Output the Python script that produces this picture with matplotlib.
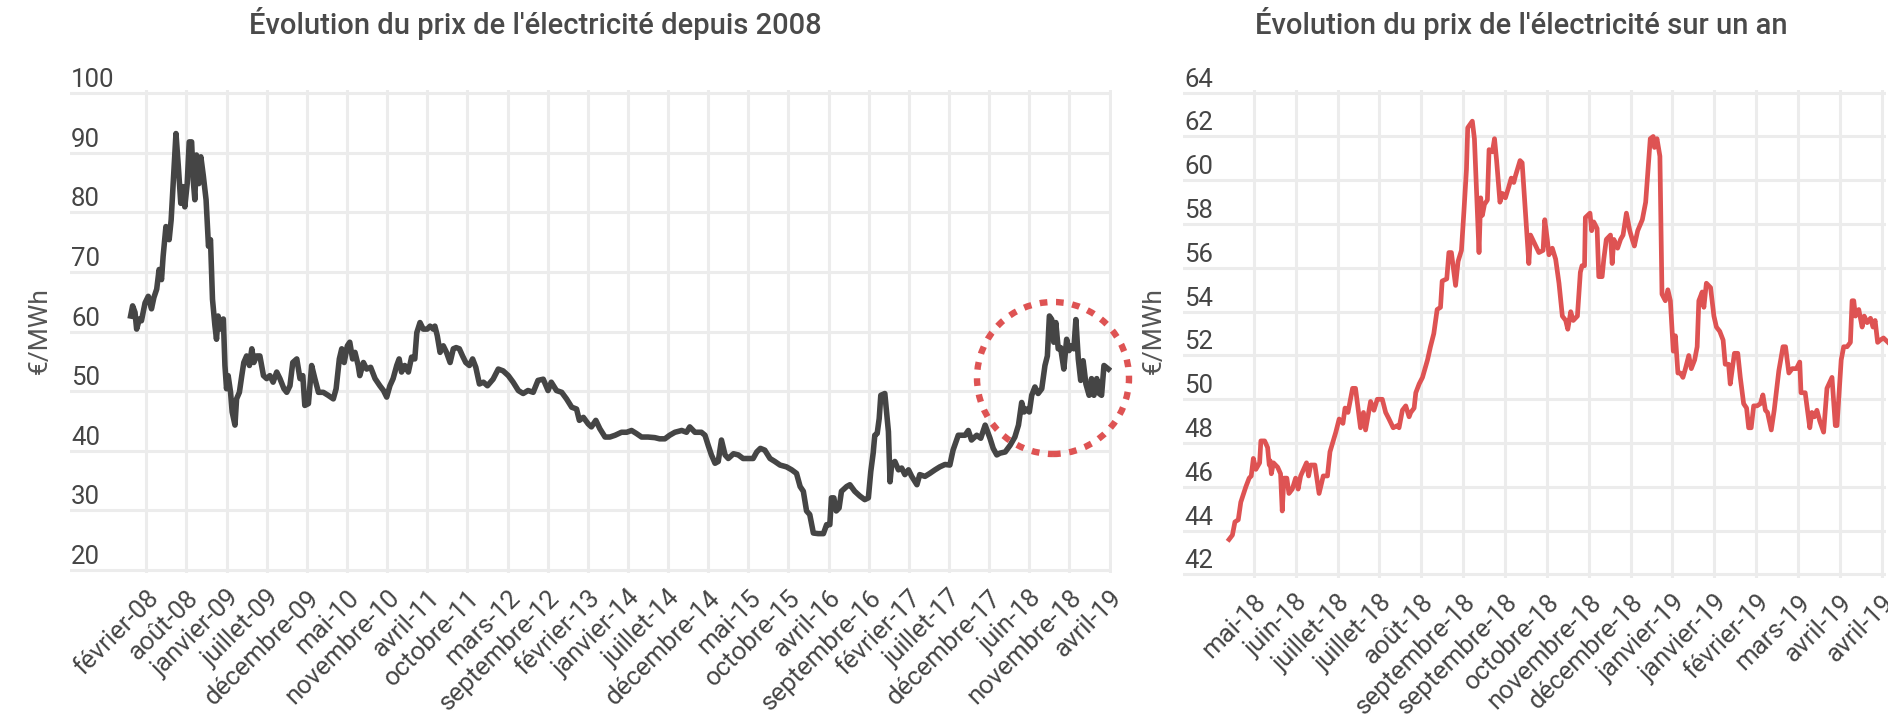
import matplotlib
matplotlib.use("Agg")
import matplotlib.pyplot as plt
from matplotlib.patches import Ellipse
from matplotlib import transforms

plt.rcParams['font.family'] = ['Roboto', 'DejaVu Sans']

# ---------------- data ----------------
titre_gauche = "Évolution du prix de l'électricité depuis 2008"
titre_droite = "Évolution du prix de l'électricité sur un an"
unite = "€/MWh"

mois_2008 = ["février-08", "août-08", "janvier-09", "juillet-09", "décembre-09", "mai-10",
             "novembre-10", "avril-11", "octobre-11", "mars-12", "septembre-12", "février-13",
             "janvier-14", "juillet-14", "décembre-14", "mai-15", "octobre-15", "avril-16",
             "septembre-16", "février-17", "juillet-17", "décembre-17", "juin-18",
             "novembre-18", "avril-19"]
mois_an = ["mai-18", "juin-18", "juillet-18", "juillet-18", "août-18", "septembre-18",
           "septembre-18", "octobre-18", "novembre-18", "décembre-18", "janvier-19",
           "janvier-19", "février-19", "mars-19", "avril-19", "avril-19"]

y_ticks_2008 = [20, 30, 40, 50, 60, 70, 80, 90, 100]
y_ticks_an = [42, 44, 46, 48, 50, 52, 54, 56, 58, 60, 62, 64]

# (position on the label axis, price in €/MWh); labels are 10 units apart
prix_2008 = [(-3.9, 62.6), (-3.4, 64.3), (-2.8, 63.2), (-2.4, 60.4), (-1.7, 62.1), (-1.2, 61.8),
             (-0.3, 64.8), (0.5, 65.9), (1.3, 63.8), (1.9, 65.7), (2.6, 67.1), (3.2, 70.4),
             (3.8, 68.7), (4.2, 72.6), (4.9, 77.6), (5.7, 75.4), (6.2, 78.7), (6.7, 84.8),
             (7.4, 93.2), (8.0, 87.6), (8.6, 81.5), (9.1, 84.3), (9.6, 80.9), (10.2, 84.8),
             (10.7, 91.8), (11.3, 91.8), (11.7, 85.4), (12.1, 82.1), (12.5, 89.6), (13.1, 84.8),
             (13.6, 89.3), (14.2, 86.2), (14.9, 82.1), (15.5, 74.3), (16.0, 75.4), (16.5, 65.4),
             (17.1, 61.0), (17.5, 58.7), (17.9, 62.6), (18.5, 60.4), (19.2, 62.1), (19.6, 54.3),
             (20.0, 50.4), (20.4, 52.6), (21.0, 49.8), (21.4, 46.5), (22.1, 44.3), (22.5, 48.7),
             (23.2, 49.8), (23.8, 52.6), (24.3, 54.8), (25.0, 55.9), (25.7, 54.3), (26.3, 57.1),
             (26.8, 54.8), (27.5, 55.9), (28.3, 55.9), (29.2, 52.6), (30.0, 52.1), (30.8, 52.6),
             (31.6, 51.5), (32.5, 53.2), (33.3, 52.1), (34.3, 50.4), (35.0, 49.8), (35.8, 50.9),
             (36.5, 54.8), (37.5, 55.4), (38.3, 52.1), (39.0, 52.6), (39.5, 47.6), (40.4, 47.9),
             (41.2, 54.3), (42.0, 52.1), (42.9, 49.8), (44.1, 49.8), (45.3, 49.3), (46.6, 48.7),
             (47.3, 50.4), (48.1, 55.4), (48.7, 57.1), (49.3, 54.8), (50.1, 57.6), (50.7, 58.2),
             (51.4, 55.4), (52.0, 56.5), (52.8, 54.3), (53.2, 52.6), (54.1, 54.8), (54.9, 53.7),
             (55.9, 54.0), (57.0, 52.1), (58.2, 50.9), (59.1, 50.1), (59.9, 49.0), (60.7, 50.9),
             (61.5, 52.1), (62.4, 54.3), (63.0, 55.4), (63.6, 53.2), (64.4, 54.3), (65.3, 53.2),
             (66.1, 55.7), (66.9, 55.4), (67.4, 59.8), (68.2, 61.5), (69.0, 60.4), (70.0, 60.4),
             (70.7, 60.9), (71.5, 60.4), (71.9, 60.9), (72.5, 59.3), (73.2, 56.5), (74.0, 57.6),
             (74.8, 56.5), (75.7, 54.8), (76.5, 57.1), (77.2, 57.3), (78.0, 57.1), (78.8, 55.9),
             (79.6, 54.8), (80.5, 54.3), (81.3, 55.4), (82.1, 54.0), (83.0, 51.2), (84.0, 51.5),
             (85.0, 50.9),
             (86.4, 52.0), (87.7, 53.7), (88.9, 53.4), (90.2, 52.6), (91.4, 51.5), (92.7, 50.1),
             (93.9, 49.6), (95.1, 50.1), (96.4, 49.8), (97.6, 51.8), (98.9, 52.0), (100.1, 50.1),
             (100.9, 51.5), (102.2, 50.1), (103.5, 49.8), (104.7, 48.7), (106.0, 47.3), (107.2, 47.0),
             (107.9, 45.1), (108.9, 45.6), (110.1, 44.5), (110.9, 44.0), (112.0, 45.1), (113.0, 43.7),
             (114.3, 42.3), (115.5, 42.3), (116.8, 42.6), (118.4, 43.1), (119.7, 43.1), (120.9, 43.4),
             (122.1, 42.9), (123.4, 42.3), (125.0, 42.3), (126.7, 42.2), (127.9, 42.0), (129.2, 42.0),
             (130.4, 42.6), (131.7, 43.1), (133.4, 43.4), (134.6, 43.1), (135.4, 44.0), (136.7, 43.1),
             (138.3, 43.1), (139.2, 42.6), (140.0, 40.9), (140.8, 39.3), (141.7, 37.9), (142.5, 38.2),
             (143.3, 41.8), (144.2, 39.3), (145.0, 38.7), (146.3, 39.5), (147.5, 39.3), (148.7, 38.7),
             (150.0, 38.7), (151.2, 38.7), (152.1, 39.8), (153.0, 40.4), (154.1, 40.1), (155.4, 38.7),
             (156.6, 38.2), (157.9, 37.6),
             (159.5, 37.3), (160.8, 36.8), (162.0, 36.2), (162.9, 34.0), (163.7, 33.2), (164.5, 29.9),
             (165.3, 29.3), (166.2, 26.2), (167.4, 26.1), (168.7, 26.1), (169.5, 27.6), (170.3, 27.6),
             (170.7, 32.1), (171.3, 32.1), (171.9, 29.9), (172.6, 30.4), (173.2, 33.2), (174.5, 34.0),
             (175.3, 34.3), (176.5, 33.2), (177.8, 32.4), (179.0, 31.8), (179.9, 32.1), (180.5, 36.5),
             (181.1, 39.6), (181.5, 42.6), (182.1, 42.9), (182.6, 45.4), (183.0, 49.3), (184.0, 49.6),
             (184.4, 46.8), (184.9, 43.2), (185.3, 34.8), (185.7, 37.6), (186.5, 38.2), (187.4, 36.8),
             (188.2, 37.1), (189.0, 36.0), (189.9, 36.8), (190.7, 35.7), (192.0, 34.3), (192.7, 36.0),
             (194.0, 35.7), (195.2, 36.2), (196.5, 36.8), (197.7, 37.3), (199.0, 37.7), (200.2, 37.6),
             (201.0, 40.1), (202.3, 42.6), (204.0, 42.6), (204.8, 43.4), (205.6, 41.8), (206.9, 42.6),
             (207.9, 42.1), (209.0, 44.3), (210.2, 42.1), (211.0, 40.4), (211.9, 39.3), (212.7, 39.6),
             (214.0, 39.8), (215.2, 40.9), (216.4, 42.3), (217.3, 44.3), (218.1, 48.1), (218.7, 46.5),
             (219.3, 47.0), (220.0, 46.5), (220.6, 49.3), (221.4, 50.7), (222.2, 49.6), (223.1, 50.4),
             (223.9, 54.3), (224.5, 55.9), (225.0, 62.6), (225.6, 62.0), (226.1, 58.2), (226.6, 61.5),
             (227.2, 57.1), (227.8, 57.3), (228.6, 53.7), (229.3, 58.7), (229.9, 56.8), (230.5, 57.6),
             (231.1, 57.1), (231.6, 62.0), (232.2, 55.4), (232.8, 51.8), (233.4, 55.1), (234.1, 51.2),
             (234.9, 49.3), (235.5, 52.1), (236.1, 49.3), (236.8, 52.1), (237.4, 49.6), (238.0, 49.3),
             (238.6, 54.3), (239.7, 53.7)]

prix_an = [(-5.9, 43.6), (-5.1, 43.8), (-4.5, 44.4), (-3.7, 44.5), (-3.1, 45.3), (-1.9, 46.0),
           (-1.1, 46.4), (-0.6, 46.5), (-0.1, 47.3), (0.5, 46.8), (1.4, 47.1), (1.7, 48.1),
           (2.6, 48.1), (3.3, 47.8), (3.7, 47.0), (3.9, 47.2), (4.2, 46.6), (4.7, 47.1),
           (5.7, 46.9), (6.4, 46.6), (6.8, 44.9), (7.2, 46.4), (7.9, 46.4), (8.4, 45.7),
           (9.2, 45.9), (10.0, 46.4), (10.6, 45.9), (11.2, 46.5), (12.6, 47.1), (13.1, 46.5),
           (13.6, 47.0), (14.6, 47.0), (15.6, 45.7), (16.6, 46.5), (17.6, 46.5), (18.2, 47.6),
           (19.6, 48.5), (20.4, 49.1), (21.3, 48.9), (21.8, 49.6), (22.5, 49.4), (23.6, 50.5),
           (24.3, 50.5), (25.5, 48.7), (26.2, 49.4), (26.7, 48.6), (27.9, 49.9), (28.7, 49.5),
           (29.5, 50.0), (30.7, 50.0), (31.5, 49.4), (32.3, 49.1), (33.3, 48.7), (34.3, 48.8),
           (34.7, 48.7), (35.5, 49.5), (36.3, 49.7), (37.1, 49.2), (37.5, 49.4), (38.3, 49.6),
           (38.7, 50.3), (39.5, 50.7), (40.3, 51.0), (41.5, 51.8), (42.2, 52.4), (43.0, 53.0),
           (43.8, 54.1), (44.6, 54.2), (45.0, 55.4), (46.1, 55.5), (46.6, 56.7), (47.2, 56.7),
           (48.2, 55.2), (48.8, 56.3), (49.6, 56.8), (50.2, 58.6), (50.8, 60.5), (51.1, 62.4),
           (52.2, 62.7), (52.7, 61.9), (53.8, 56.7), (54.2, 59.2), (54.6, 58.4), (55.1, 58.9),
           (55.8, 59.1), (56.2, 61.4), (57.0, 61.3), (57.5, 61.9), (58.0, 60.9), (58.8, 59.0),
           (59.4, 59.4), (60.1, 59.2), (60.9, 59.7), (61.5, 60.1), (62.1, 59.9), (62.5, 60.2),
           (63.6, 60.9), (64.1, 60.8), (64.9, 58.5), (65.7, 56.2), (66.1, 57.5),
           (67.1, 57.1), (68.1, 56.7), (69.1, 56.8), (69.5, 58.2), (70.1, 57.3), (70.5, 56.6),
           (71.3, 56.9), (72.1, 56.4), (72.9, 55.3), (73.7, 53.8), (74.5, 53.6), (75.0, 53.2),
           (75.7, 54.0), (76.3, 53.6), (77.3, 53.8), (78.0, 55.8), (78.4, 56.1), (79.0, 56.1),
           (79.2, 58.3), (80.3, 58.5), (80.7, 57.7), (81.2, 58.1), (82.0, 57.8), (82.4, 55.6),
           (83.2, 55.6), (83.6, 56.4), (84.2, 57.3), (85.2, 57.5), (85.6, 56.2), (86.0, 57.3),
           (86.9, 56.9), (87.6, 57.3), (88.2, 57.5), (89.0, 58.5), (89.8, 57.7), (90.4, 57.3),
           (90.9, 57.0), (91.7, 57.7), (92.8, 58.2), (93.6, 59.0), (94.1, 60.3), (94.7, 61.9),
           (95.4, 62.0), (95.7, 61.5), (96.3, 61.9), (97.0, 61.1), (97.5, 54.8), (98.3, 54.5),
           (98.9, 55.0), (99.5, 54.5), (100.2, 52.2), (100.7, 52.9), (101.3, 51.2), (101.9, 51.2),
           (102.5, 51.0), (103.1, 51.4), (103.9, 52.0), (104.5, 51.4), (105.3, 51.8), (105.9, 52.4),
           (106.3, 54.5), (107.1, 54.9), (107.5, 54.2), (108.1, 55.3), (109.1, 55.1), (109.9, 53.8),
           (110.5, 53.3), (111.3, 53.1), (112.1, 52.7), (112.6, 51.6), (113.4, 51.6), (113.8, 50.7),
           (114.8, 52.1), (115.6, 52.1), (116.2, 51.0), (117.0, 49.8), (117.7, 49.6), (118.2, 48.7),
           (118.8, 48.7), (119.4, 49.7), (120.2, 49.7), (121.0, 49.8), (121.6, 50.2), (122.2, 49.5),
           (122.7, 49.4), (123.6, 48.6), (124.3, 49.5), (125.4, 51.3), (126.4, 52.4), (127.0, 52.4),
           (127.8, 51.2), (128.6, 51.4), (129.6, 51.4), (130.4, 51.7), (130.7, 50.3), (131.7, 50.3),
           (132.8, 48.7), (133.3, 49.4), (133.9, 49.2), (134.5, 49.5), (135.2, 49.0), (136.1, 48.5),
           (136.9, 50.5), (138.1, 51.0), (138.9, 48.8), (139.3, 48.8), (140.3, 51.8), (140.9, 52.4),
           (141.7, 52.4), (142.5, 52.6), (142.9, 54.5), (143.3, 54.5), (143.7, 53.8), (144.5, 54.1),
           (145.3, 53.3), (145.8, 53.8), (146.5, 53.5), (147.3, 53.7), (147.9, 53.3), (148.4, 53.6),
           (149.0, 52.6), (149.6, 52.7), (150.4, 52.8), (151.5, 52.6)]

# ---------------- styling ----------------
W, H = 1888, 720
DARK = '#454545'
RED = '#DE5353'
GRID = '#ececec'
TXT = '#454545'

fig = plt.figure(figsize=(W / 100, H / 100), dpi=100)


def px_axes(l, t, r, b):
    return fig.add_axes([l / W, 1 - b / H, (r - l) / W, (b - t) / H])


def style(ax, xlim, yticks, labels, top_px, bot_px):
    # pad the y-range by 3 px so the outer grid lines are not clipped
    per_px = (yticks[-1] - yticks[0]) / (bot_px - top_px)
    ax.set_xlim(*xlim)
    ax.set_ylim(yticks[0] - 3 * per_px, yticks[-1] + 3 * per_px)
    for s in ax.spines.values():
        s.set_visible(False)
    ax.set_yticks(yticks)
    ax.set_yticklabels([])
    ax.set_xticks(range(0, 10 * len(labels), 10))
    ax.set_xticklabels(labels, rotation=45, ha='right', va='top',
                       rotation_mode='anchor', fontsize=18.5, color=TXT)
    ax.tick_params(length=0)
    ax.tick_params(axis='x', pad=9)
    ax.grid(True, color=GRID, lw=2.2)
    ax.set_axisbelow(True)
    tr = transforms.blended_transform_factory(ax.transAxes, ax.transData) + \
        transforms.ScaledTranslation(1 / 100, 6 / 100, fig.dpi_scale_trans)
    for v in yticks:
        ax.text(0, v, str(v), transform=tr, ha='left', va='baseline',
                fontsize=18.5, color=TXT)


ax1 = px_axes(70, 90, 1112, 573)
style(ax1, (-19.0, 240.6), y_ticks_2008, mois_2008, 93, 570)
x1, y1 = zip(*prix_2008)
ax1.plot(x1, y1, color=DARK, lw=4.0, solid_joinstyle='round', zorder=3)

ax2 = px_axes(1183, 89.7, 1886, 577.5)
style(ax2, (-16.9, 151.0), y_ticks_an, mois_an, 92.7, 574.5)
x2, y2 = zip(*prix_an)
ax2.plot(x2, y2, color=RED, lw=3.4, solid_joinstyle='round', zorder=3, clip_on=False)

fig.text(535 / W, 1 - 34 / H, titre_gauche, ha='center', va='baseline',
         fontsize=21, color='#4a4a4a', fontweight='medium')
fig.text(1521 / W, 1 - 34 / H, titre_droite, ha='center', va='baseline',
         fontsize=21, color='#4a4a4a', fontweight='medium')

fig.text(40 / W, 1 - 331 / H, unite, rotation=90, ha='center', va='center',
         fontsize=19, color='#555555')
fig.text(1154 / W, 1 - 331 / H, unite, rotation=90, ha='center', va='center',
         fontsize=19, color='#555555')

circle = Ellipse((1053 / W, 1 - 378 / H), 152 / W, 152 / H, transform=fig.transFigure,
                 fill=False, ec=RED, lw=4.6, ls=(0, (1.2, 1.35)), clip_on=False, zorder=10)
fig.add_artist(circle)

fig.savefig('out.png', dpi=100)
